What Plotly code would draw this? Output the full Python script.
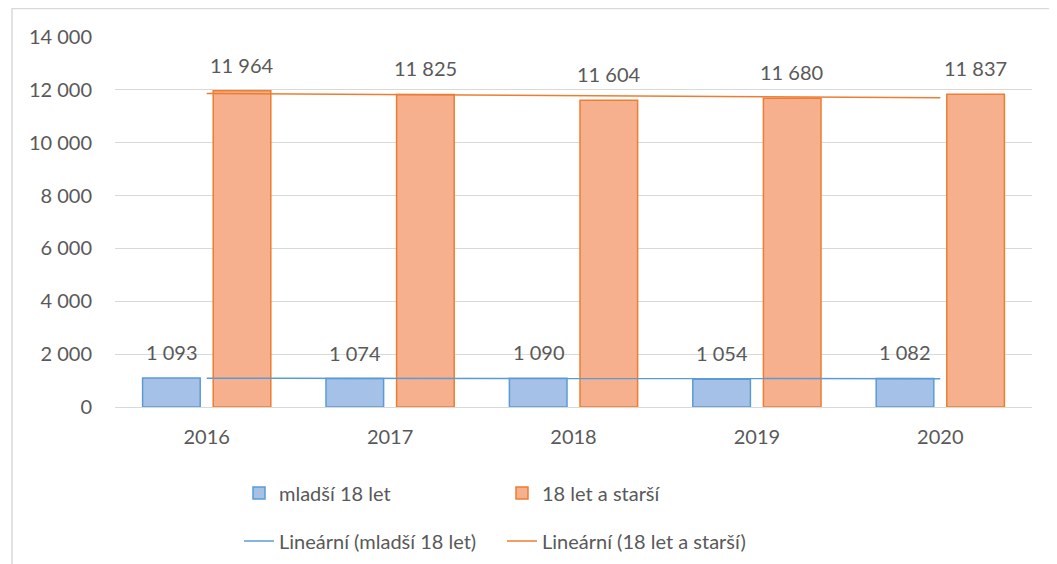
import numpy as np
import plotly.graph_objects as go

years = ["2016", "2017", "2018", "2019", "2020"]
young = [1093, 1074, 1090, 1054, 1082]
adult = [11964, 11825, 11604, 11680, 11837]
name_young = "mladší 18 let"
name_adult = "18 let a starší"
y_ticks = [0, 2000, 4000, 6000, 8000, 10000, 12000, 14000]

BLUE_EDGE = "#5b9bd5"
BLUE_FILL = "#a6c1e7"
ORANGE_EDGE = "#ed7d31"
ORANGE_FILL = "#f6b08e"
GRAY = "#595959"
FONT = "Lato"


def fmt(v):
    return f"{v:,}".replace(",", " ")


def trend(vals):
    xs = np.arange(len(vals))
    k, q = np.polyfit(xs, vals, 1)
    return list(k * xs + q)


fig = go.Figure()
fig.add_trace(go.Bar(x=years, y=young, name=name_young,
                     marker=dict(color=BLUE_FILL, line=dict(color=BLUE_EDGE, width=1.5)),
                     legend="legend"))
fig.add_trace(go.Bar(x=years, y=adult, name=name_adult,
                     marker=dict(color=ORANGE_FILL, line=dict(color=ORANGE_EDGE, width=1.5)),
                     legend="legend"))
fig.add_trace(go.Scatter(x=years, y=trend(young), mode="lines",
                         name=f"Lineární ({name_young})",
                         line=dict(color=BLUE_EDGE, width=1.5), legend="legend2"))
fig.add_trace(go.Scatter(x=years, y=trend(adult), mode="lines",
                         name=f"Lineární ({name_adult})",
                         line=dict(color=ORANGE_EDGE, width=1.5), legend="legend2"))

annotations = []
for i, v in enumerate(young):
    annotations.append(dict(x=i, y=v, text=fmt(v), showarrow=False, xshift=-35,
                            yanchor="bottom", yshift=12,
                            font=dict(family=FONT, size=20, color=GRAY)))
for i, v in enumerate(adult):
    annotations.append(dict(x=i, y=v, text=fmt(v), showarrow=False, xshift=35,
                            yanchor="bottom", yshift=12,
                            font=dict(family=FONT, size=20, color=GRAY)))

# page body adds an 8px offset; figure coordinates compensate
W, H = 1049, 556
L, R, T, B = 107, 25, 29, 157
pw, ph = W - L - R, H - T - B

fig.update_layout(
    width=W, height=H,
    margin=dict(l=L, r=R, t=T, b=B, autoexpand=False),
    paper_bgcolor="white", plot_bgcolor="white",
    font=dict(family=FONT, size=20, color=GRAY),
    barmode="group", bargap=0.23, bargroupgap=0.184,
    annotations=annotations,
    xaxis=dict(type="category", range=[-0.5, len(years) - 0.5], automargin=False,
               showgrid=False, showline=True, linecolor="#d9d9d9", linewidth=1,
               ticks="", ticklabelstandoff=12,
               tickfont=dict(family=FONT, size=20, color=GRAY)),
    yaxis=dict(range=[0, 14000], tickvals=y_ticks, ticktext=[fmt(t) for t in y_ticks],
               automargin=False,
               showgrid=True, gridcolor="#d9d9d9", gridwidth=1, zeroline=False,
               showline=False, ticks="", ticklabelstandoff=22,
               tickfont=dict(family=FONT, size=20, color=GRAY)),
    legend=dict(orientation="h", x=(231 - L) / pw, xanchor="left",
                y=(H - B - 485) / ph, yanchor="middle", entrywidth=218,
                entrywidthmode="pixels", traceorder="normal",
                font=dict(family=FONT, size=20, color=GRAY), bgcolor="rgba(0,0,0,0)"),
    legend2=dict(orientation="h", x=(231 - L) / pw, xanchor="left",
                 y=(H - B - 533) / ph, yanchor="middle", entrywidth=218,
                 entrywidthmode="pixels", traceorder="normal",
                 font=dict(family=FONT, size=20, color=GRAY), bgcolor="rgba(0,0,0,0)"),
    shapes=[dict(type="rect", xref="paper", yref="paper",
                 x0=(4 - L) / pw, x1=1.2, y0=-1, y1=(H - B - 0.5) / ph,
                 line=dict(color="#d9d9d9", width=1.5), fillcolor="rgba(0,0,0,0)",
                 layer="below")],
)

fig.write_html("out.html")
